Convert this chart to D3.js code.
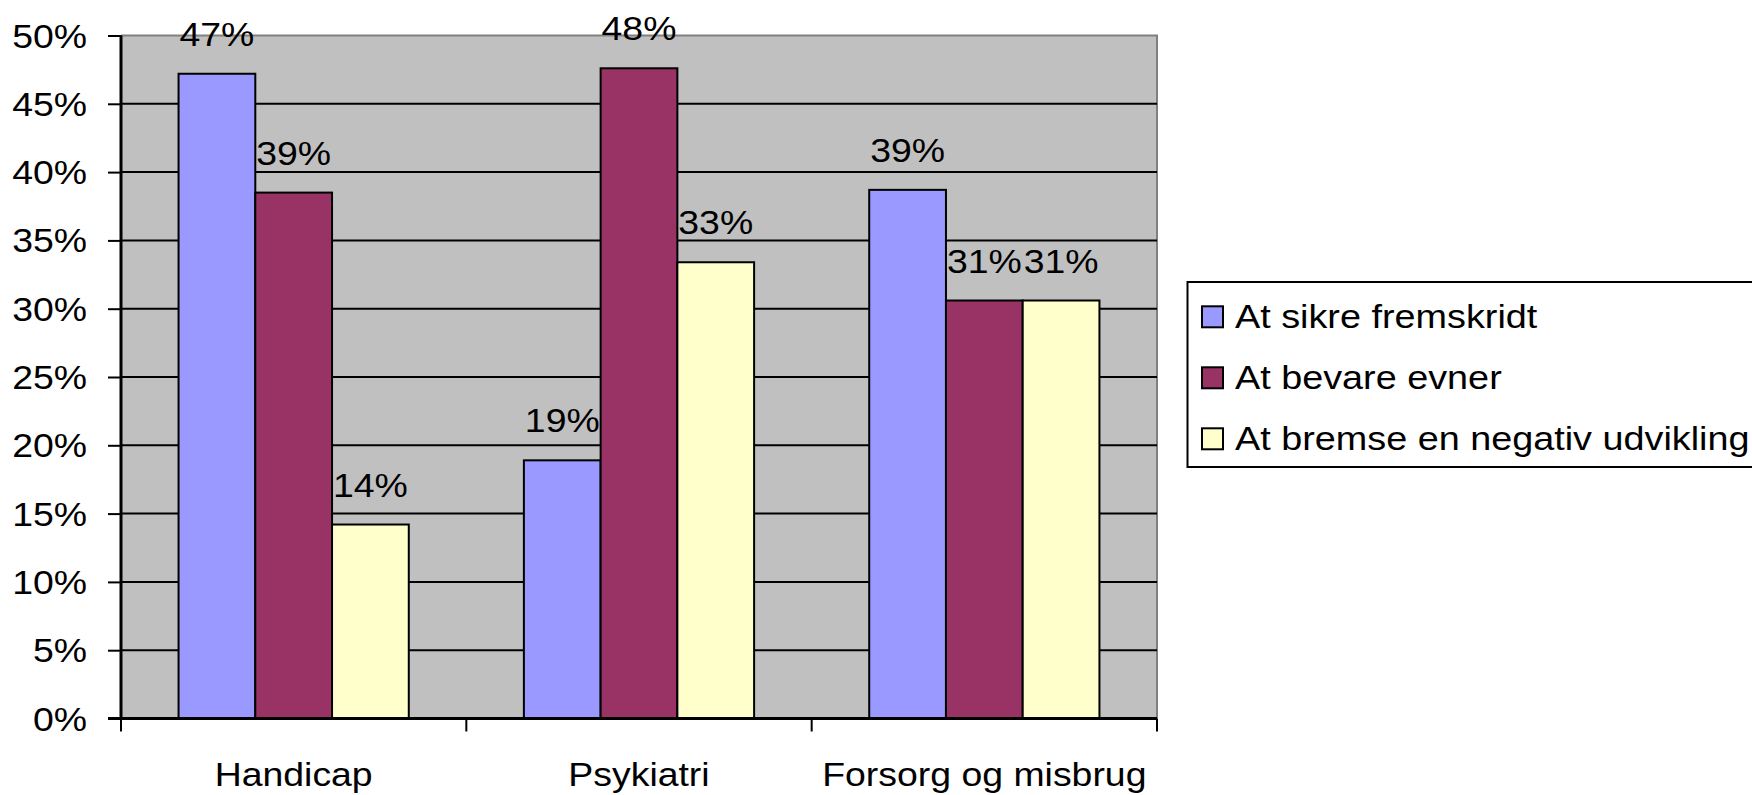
<!DOCTYPE html>
<html>
<head>
<meta charset="utf-8">
<script src="https://cdn.jsdelivr.net/npm/d3@7/dist/d3.min.js"></script>
<style>
  html, body { margin: 0; padding: 0; background: #ffffff; }
  svg { display: block; }
  text { font-family: "Liberation Sans", Arial, sans-serif; fill: #000; }
</style>
</head>
<body>
<svg id="chart" width="1752" height="795"></svg>
<script>
const categories = ["Handicap", "Psykiatri", "Forsorg og misbrug"];
const seriesNames = ["At sikre fremskridt", "At bevare evner", "At bremse en negativ udvikling"];
const sikreFremskridt = [47.2, 18.9, 38.7];
const bevareEvner = [38.5, 47.6, 30.6];
const bremseUdvikling = [14.2, 33.4, 30.6];
const valueLabels = [["47%", "19%", "39%"], ["39%", "48%", "31%"], ["14%", "33%", "31%"]];
const yTicks = [0, 5, 10, 15, 20, 25, 30, 35, 40, 45, 50];
const yTickLabels = ["0%", "5%", "10%", "15%", "20%", "25%", "30%", "35%", "40%", "45%", "50%"];
const colors = ["#9999FF", "#993366", "#FFFFCC"];

const series = [sikreFremskridt, bevareEvner, bremseUdvikling];

const svg = d3.select("#chart");
const pLeft = 121, pRight = 1157, pTop = 35.5, pBottom = 718.5;
const SX = 1.1; // horizontal stretch of the original text

const x = d3.scaleBand().domain(categories).range([pLeft, pRight]).paddingInner(0).paddingOuter(0);
const y = d3.scaleLinear().domain([0, 50]).range([pBottom, pTop]);
const barW = x.bandwidth() / 4.5;

function stretchedText(parent, tx, ty, str, size, anchor, sx) {
  const g = parent.append("g").attr("transform", `translate(${tx},${ty}) scale(${sx},1)`);
  g.append("text").attr("x", 0).attr("y", 0)
    .attr("font-size", size).attr("text-anchor", anchor).text(str);
  return g;
}

// plot background
svg.append("rect").attr("x", pLeft).attr("y", pTop).attr("width", pRight - pLeft).attr("height", pBottom - pTop)
  .attr("fill", "#C0C0C0");
// top & right border (grey)
svg.append("path").attr("d", `M${pLeft},${pTop}H${pRight}V${pBottom}`)
  .attr("fill", "none").attr("stroke", "#808080").attr("stroke-width", 2);

// gridlines
svg.append("g").selectAll("line").data(yTicks.filter(d => d > 0 && d < 50)).join("line")
  .attr("x1", pLeft).attr("x2", pRight)
  .attr("y1", d => y(d)).attr("y2", d => y(d))
  .attr("stroke", "#000").attr("stroke-width", 2);

// bars
const groups = svg.append("g").selectAll("g").data(series).join("g")
  .attr("fill", (d, i) => colors[i]);
groups.each(function (vals, si) {
  d3.select(this).selectAll("rect").data(vals).join("rect")
    .attr("x", (d, ci) => x(categories[ci]) + x.bandwidth() / 2 - 1.5 * barW + si * barW)
    .attr("y", d => y(d))
    .attr("width", barW)
    .attr("height", d => y(0) - y(d))
    .attr("stroke", "#000").attr("stroke-width", 2);
});

// data labels
series.forEach((vals, si) => {
  vals.forEach((v, ci) => {
    const cx = x(categories[ci]) + x.bandwidth() / 2 - 1.5 * barW + si * barW + barW / 2;
    stretchedText(svg, cx, y(v) - 28, valueLabels[si][ci], 34, "middle", SX);
  });
});

// y axis
const yAxis = d3.axisLeft(y).tickValues(yTicks).tickFormat((d, i) => yTickLabels[i]).tickSize(13).tickPadding(0);
const yg = svg.append("g").attr("transform", `translate(${pLeft},0)`).call(yAxis);
yg.select(".domain").attr("stroke", "#000").attr("stroke-width", 3).attr("d", `M0,${pTop}V${pBottom}`);
yg.selectAll(".tick line").attr("stroke", "#000").attr("stroke-width", 2);
yg.selectAll(".tick text").remove();
yTicks.forEach((t, i) => {
  stretchedText(svg, 87, y(t) + 12, yTickLabels[i], 34, "end", SX);
});

// x axis
const xAxis = d3.axisBottom(x).tickSize(0).tickFormat("");
const xg = svg.append("g").attr("transform", `translate(0,${pBottom})`).call(xAxis);
xg.select(".domain").attr("stroke", "#000").attr("stroke-width", 3).attr("d", `M${pLeft - 13},0H${pRight}`);
xg.selectAll(".tick").remove();
const boundaries = categories.map(c => x(c)).concat([x(categories[categories.length - 1]) + x.bandwidth()]);
xg.selectAll("line.bnd").data(boundaries).join("line").attr("class", "bnd")
  .attr("x1", d => d).attr("x2", d => d).attr("y1", 0).attr("y2", 13)
  .attr("stroke", "#000").attr("stroke-width", 2);
categories.forEach(c => {
  stretchedText(svg, x(c) + x.bandwidth() / 2, 786, c, 34, "middle", SX);
});

// legend
const lg = svg.append("g");
lg.append("rect").attr("x", 1187.5).attr("y", 282).attr("width", 620).attr("height", 185)
  .attr("fill", "#fff").attr("stroke", "#000").attr("stroke-width", 2);
seriesNames.forEach((name, i) => {
  const base = 328.3 + i * 61;
  lg.append("rect").attr("x", 1202).attr("y", base - 22).attr("width", 21).attr("height", 21)
    .attr("fill", colors[i]).attr("stroke", "#000").attr("stroke-width", 2);
  stretchedText(lg, 1235, base, name, 33, "start", 1.145);
});
</script>
</body>
</html>
